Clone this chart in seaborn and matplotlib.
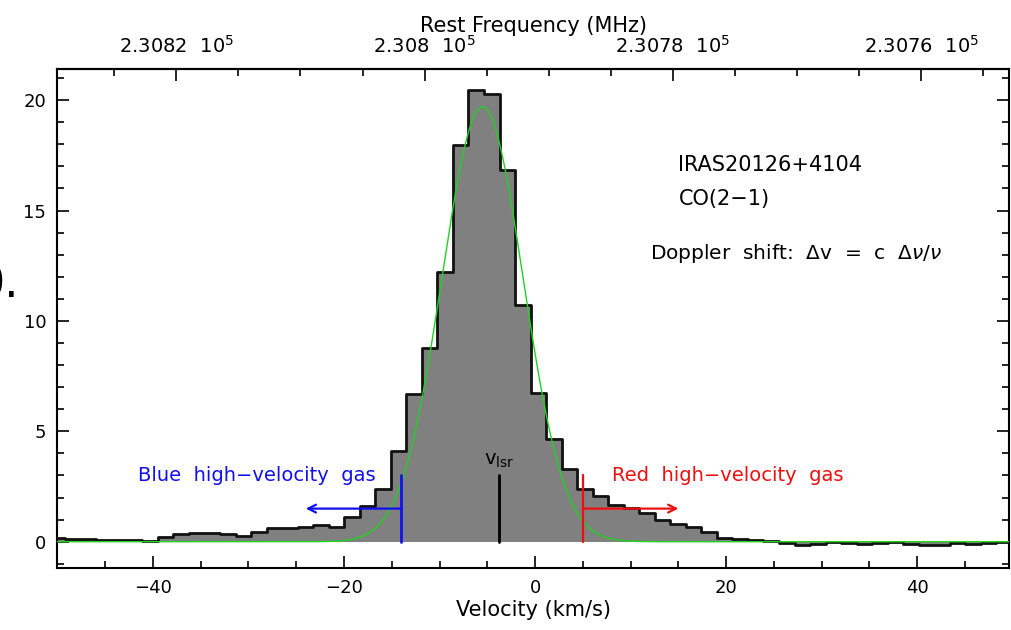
import numpy as np
import pandas as pd
import matplotlib
matplotlib.use("Agg")
import matplotlib.pyplot as plt
from matplotlib.ticker import MultipleLocator, FuncFormatter, FixedLocator
import seaborn as sns

# ---------------- data ----------------
chan_width = 1.625          # km/s
first_edge = -50.845        # km/s, left edge of first channel
flux = [0.15, 0.11, 0.11, 0.09, 0.08, 0.08, 0.02, 0.22, 0.35, 0.38,
        0.41, 0.35, 0.27, 0.45, 0.64, 0.64, 0.68, 0.78, 0.68, 1.12,
        1.62, 2.41, 4.12, 6.67, 8.76, 12.21, 17.95, 20.45, 20.27, 16.82,
        10.73, 6.72, 4.64, 3.30, 2.41, 2.09, 1.67, 1.55, 1.32, 0.98,
        0.80, 0.65, 0.42, 0.18, 0.12, 0.08, 0.04, -0.08, -0.17, -0.10,
        -0.03, -0.05, -0.12, -0.05, -0.02, -0.09, -0.16, -0.14, -0.08, -0.12,
        -0.04, 0.0]
gauss_amp = 19.7
gauss_center = -5.5
gauss_sigma = 4.25
v_lsr = -3.8
blue_limit = -14.0
red_limit = 5.0
marker_height = 3.0
arrow_y = 1.5
blue_arrow_end = -24.0
red_arrow_end = 15.0
F0 = 230791.1              # MHz at v = 0
C_KMS = 299792.458
freq_ticks = [230820, 230800, 230780, 230760]   # MHz

edges = first_edge + chan_width * np.arange(len(flux) + 1)
step_y = np.append(flux, flux[-1])
df = pd.DataFrame({"velocity": edges, "flux": step_y})

v_fine = np.linspace(-50, 50, 1200)
fit = pd.DataFrame({"velocity": v_fine,
                    "model": gauss_amp * np.exp(-0.5 * ((v_fine - gauss_center) / gauss_sigma) ** 2)})

# ---------------- style ----------------
sns.set_style("ticks")
plt.rcParams["font.family"] = ["DejaVu Sans"]
plt.rcParams["axes.linewidth"] = 1.5
plt.rcParams["mathtext.fontset"] = "dejavusans"
for key in ["text.color", "axes.labelcolor", "xtick.color", "ytick.color",
            "xtick.labelcolor", "ytick.labelcolor", "axes.edgecolor"]:
    plt.rcParams[key] = "black"

fig = plt.figure(figsize=(10.12, 6.3), dpi=100)
ax = fig.add_axes([57.3 / 1012, 1 - 568 / 630, (1009 - 57.3) / 1012, (568 - 69) / 630])

# filled spectrum
ax.fill_between(df["velocity"], df["flux"], 0, step="post", color="#808080", linewidth=0, zorder=1)
# outline
sns.lineplot(data=df, x="velocity", y="flux", drawstyle="steps-post", color="#111111",
             linewidth=2.0, ax=ax, zorder=3)
# gaussian fit
sns.lineplot(data=fit, x="velocity", y="model", color="#1fd41f", linewidth=1.0, ax=ax, zorder=4)

# markers
ax.plot([v_lsr, v_lsr], [0, marker_height], color="black", lw=2.0, zorder=5)
ax.plot([blue_limit, blue_limit], [0, marker_height], color="#1010ee", lw=2.0, zorder=5)
ax.plot([red_limit, red_limit], [0, marker_height], color="#ee1010", lw=1.6, zorder=5)
ax.annotate("", xy=(blue_arrow_end, arrow_y), xytext=(blue_limit, arrow_y),
            arrowprops=dict(arrowstyle="->", color="#1010ee", lw=1.6, mutation_scale=14,
                            shrinkA=0, shrinkB=0), zorder=5)
ax.annotate("", xy=(red_arrow_end, arrow_y), xytext=(red_limit, arrow_y),
            arrowprops=dict(arrowstyle="->", color="#ee1010", lw=1.6, mutation_scale=14,
                            shrinkA=0, shrinkB=0), zorder=5)

# texts
ax.text(15.0, 17.04, "IRAS20126+4104", fontsize=15, ha="left", va="center")
ax.text(15.0, 15.5, "CO(2\u22121)", fontsize=15, ha="left", va="center")
ax.text(12.07, 13.05, r"Doppler  shift:  $\Delta$v  =  c  $\Delta\nu/\nu$", fontsize=14.5,
        ha="left", va="center")
ax.text(-41.6, 3.02, "Blue  high\u2212velocity  gas", fontsize=14, color="#1010ee",
        ha="left", va="center")
ax.text(8.0, 3.0, "Red  high\u2212velocity  gas", fontsize=14, color="#ee1010",
        ha="left", va="center")
ax.text(v_lsr, 3.7, r"v$_{\rm lsr}$", fontsize=14, ha="center", va="center")

# axes
ax.set_xlim(-50, 49.6)
ax.set_ylim(-1.19, 21.41)
ax.xaxis.set_major_locator(MultipleLocator(20))
ax.xaxis.set_minor_locator(MultipleLocator(5))
ax.yaxis.set_major_locator(MultipleLocator(5))
ax.yaxis.set_minor_locator(MultipleLocator(1))
ax.xaxis.set_major_formatter(FuncFormatter(lambda x, p: f"{x:.0f}".replace("-", "\u2212")))
ax.tick_params(which="both", direction="in", top=False, right=True, width=1.2, labelsize=13)
ax.tick_params(which="major", length=8.6)
ax.tick_params(which="minor", length=4.7)
ax.tick_params(axis="x", pad=8)
ax.tick_params(axis="y", pad=8)
ax.set_xlabel("Velocity (km/s)", fontsize=15, labelpad=2)
ax.set_ylabel("")
for s in ax.spines.values():
    s.set_visible(True)
    s.set_linewidth(1.5)
    s.set_color("black")


def v2f(v):
    return F0 * (1 - np.asarray(v) / C_KMS)


def f2v(f):
    return C_KMS * (1 - np.asarray(f) / F0)


sec = ax.secondary_xaxis("top", functions=(v2f, f2v))
sec.xaxis.set_major_locator(FixedLocator(freq_ticks))
sec.xaxis.set_minor_locator(MultipleLocator(5))
sec.xaxis.set_major_formatter(FuncFormatter(lambda x, p: f"{x / 1e5:g}  10$^5$"))
sec.tick_params(which="both", direction="in", width=1.2, labelsize=14, pad=9, colors="black")
sec.tick_params(which="major", length=8.6)
sec.tick_params(which="minor", length=4.7)
sec.set_xlabel("Rest Frequency (MHz)", fontsize=15, labelpad=2, color="black")

# cropped slide artifact at the left edge
fig.text(19 / 1012, 1 - 298 / 630, "0.", fontsize=32, ha="right", va="baseline", color="black")

fig.savefig("out.png", dpi=100)
